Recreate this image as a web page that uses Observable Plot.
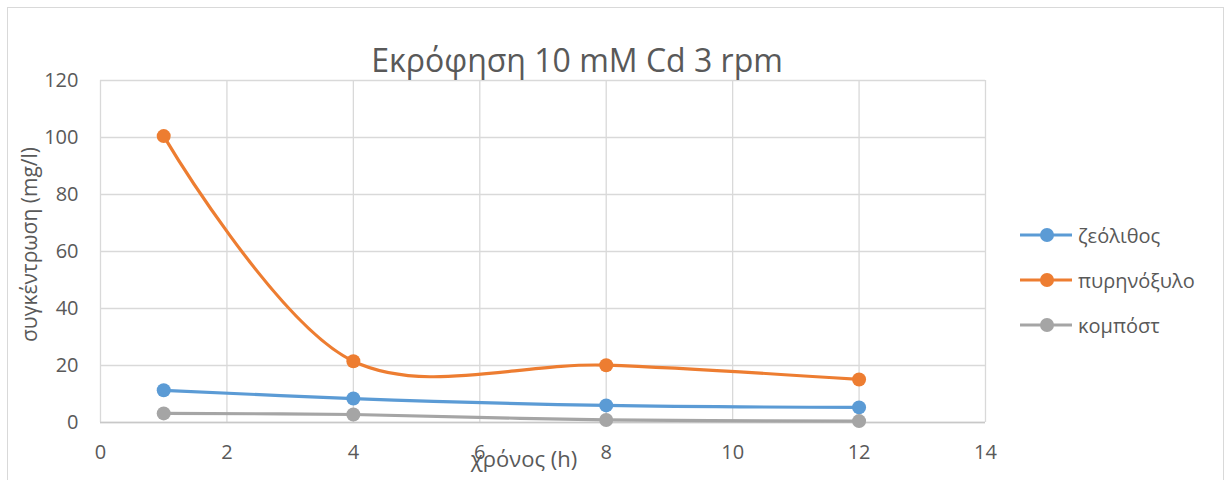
<!DOCTYPE html>
<html><head><meta charset="utf-8">
<script src="https://cdn.jsdelivr.net/npm/d3@7"></script>
<script src="https://cdn.jsdelivr.net/npm/@observablehq/plot@0.6"></script>
<style>
body{margin:0;background:#fff;font-family:"Open Sans",sans-serif;}
#wrap{position:relative;width:1227px;height:480px;overflow:hidden}
#border{position:absolute;left:7px;top:7px;width:1217px;height:490px;border:1px solid #d9d9d9;box-sizing:border-box}
#legend{position:absolute;left:1020px;top:220px;font-size:20px;color:#595959}
.item{position:absolute;left:0;height:30px;display:flex;align-items:center;white-space:nowrap}
.item span{margin-left:6px}
</style></head><body><div id="wrap"><div id="border"></div><div id="legend"></div></div>
<script>
const times = [1, 4, 8, 12];
const zeolite = [11.3, 8.4, 6.0, 5.3];
const oliveKernel = [100.5, 21.5, 20.1, 15.1];
const compost = [3.2, 2.8, 0.9, 0.5];
const seriesNames = ["ζεόλιθος", "πυρηνόξυλο", "κομπόστ"];
const seriesColors = ["#5B9BD5", "#ED7D31", "#A5A5A5"];
const xTicks = [0, 2, 4, 6, 8, 10, 12, 14];
const yTicks = [0, 20, 40, 60, 80, 100, 120];
const title = "Εκρόφηση 10 mM Cd 3 rpm";
const xLabel = "χρόνος (h)";
const yLabel = "συγκέντρωση (mg/l)";

const seriesValues = [zeolite, oliveKernel, compost];
const data = seriesNames.flatMap((s, i) => times.map((t, j) => ({series: s, time: t, value: seriesValues[i][j]})));

const font = "Open Sans";
const chart = Plot.plot({
  width: 1227, height: 480,
  marginLeft: 100, marginRight: 242, marginTop: 80, marginBottom: 58,
  style: {fontFamily: font, background: "transparent", overflow: "visible"},
  x: {domain: [0, 14], ticks: xTicks},
  y: {domain: [0, 120], ticks: yTicks},
  color: {domain: seriesNames, range: seriesColors},
  marks: [
    Plot.gridX(xTicks, {stroke: "#d9d9d9", strokeOpacity: 1, strokeWidth: 1.3}),
    Plot.gridY(yTicks, {stroke: "#d9d9d9", strokeOpacity: 1, strokeWidth: 1.3}),
    Plot.ruleY([0], {stroke: "#c8c8c8", strokeWidth: 1.5}),
    Plot.axisX(xTicks, {tickSize: 0, tickPadding: 22, fontSize: 20, fill: "#595959", label: null}),
    Plot.axisY(yTicks, {tickSize: 0, tickPadding: 22, fontSize: 20, fill: "#595959", label: null}),
    Plot.line(data, {x: "time", y: "value", z: "series", stroke: "series", strokeWidth: 3.2, curve: "catmull-rom"}),
    Plot.dot(data, {x: "time", y: "value", fill: "series", r: 7, stroke: null}),
    Plot.text([title], {text: d => d, frameAnchor: "top", dx: 34, dy: -31, fontSize: 32, fill: "#595959"}),
    Plot.text([xLabel], {text: d => d, frameAnchor: "bottom", dx: -19, dy: 44, fontSize: 22, fill: "#595959"}),
    Plot.text([yLabel], {text: d => d, frameAnchor: "left", textAnchor: "middle", dx: -70, dy: -7, rotate: -90, fontSize: 21, fill: "#595959"})
  ]
});
document.getElementById("wrap").appendChild(chart);

const legend = document.getElementById("legend");
seriesNames.forEach((s, i) => {
  const div = document.createElement("div");
  div.className = "item";
  div.style.top = (i * 45) + "px";
  div.innerHTML = `<svg width="52" height="16"><line x1="0" y1="8" x2="52" y2="8" stroke="${seriesColors[i]}" stroke-width="3.2"/><circle cx="27" cy="8" r="7" fill="${seriesColors[i]}"/></svg><span>${s}</span>`;
  legend.appendChild(div);
});
</script></body></html>
